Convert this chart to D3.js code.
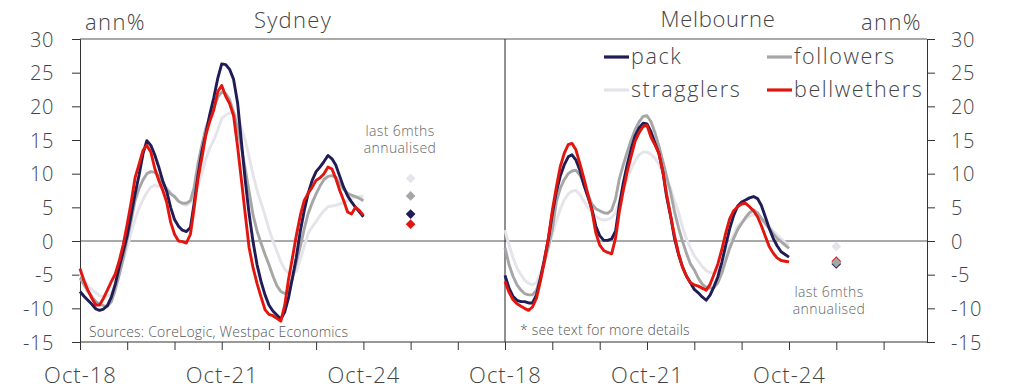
<!DOCTYPE html>
<html><head><meta charset="utf-8">
<script src="https://cdn.jsdelivr.net/npm/d3@7"></script>
<style>
html,body{margin:0;padding:0;background:#fff;}
svg{display:block;font-family:"Open Sans",Lato,sans-serif;}
</style></head>
<body><svg id="chart" width="1009" height="388"></svg>
<script>
// ---- data (monthly, Oct-18 .. Oct-24) ----
const startYear = 2018, startMonth = 9, nMonths = 73;
const seriesNames = ["stragglers", "followers", "pack", "bellwethers"];
const panelNames = ["Sydney", "Melbourne"];
const yTicks = [-15, -10, -5, 0, 5, 10, 15, 20, 25, 30];
const xTickYears = [2018, 2019, 2020, 2021, 2022, 2023, 2024, 2025, 2026, 2027];
const xLabelYears = [2018, 2021, 2024];

const sydPack = [-7.5,-8.2,-8.8,-9.4,-10.1,-10.3,-10.1,-9.6,-8.3,-6.4,-3.8,-1.5,0.8,3.9,7.0,9.8,13.0,14.9,14.2,12.8,11.0,9.0,7.4,5.0,3.2,2.2,1.6,1.4,2.0,5.5,9.8,13.3,16.0,18.8,21.3,24.2,26.3,26.2,25.5,24.0,20.5,15.0,9.0,4.0,-0.2,-3.5,-6.0,-8.0,-9.5,-10.4,-11.0,-11.6,-10.5,-8.5,-5.5,-2.4,1.5,4.5,7.1,9.0,10.3,11.0,11.8,12.7,12.2,11.3,9.6,8.0,6.7,5.8,5.0,4.3,3.6];
const sydBell = [-4.1,-5.9,-7.3,-8.5,-9.5,-9.5,-8.5,-7.3,-6.0,-4.9,-2.9,-0.5,2.5,5.8,9.4,11.4,13.5,14.2,13.2,10.8,9.0,7.6,5.8,2.8,1.0,0.0,-0.1,-0.3,1.0,4.8,9.3,12.4,15.8,17.8,19.5,22.2,23.1,21.5,20.4,18.6,14.0,9.3,4.0,-1.0,-4.0,-6.3,-8.3,-10.2,-10.9,-11.1,-11.5,-11.9,-9.5,-5.8,-2.5,0.8,3.8,6.0,7.1,8.0,9.0,9.4,10.0,11.0,10.7,9.3,7.5,6.0,4.3,4.0,5.0,4.5,3.8];
const sydFoll = [-5.5,-6.5,-7.5,-8.3,-9.0,-9.4,-9.6,-9.7,-9.0,-7.2,-5.0,-2.5,0.3,3.0,6.0,7.8,9.1,10.0,10.3,10.2,9.6,8.6,7.7,7.0,6.6,5.9,5.6,5.6,6.0,7.9,11.5,14.3,16.8,18.4,19.8,21.4,22.1,21.9,21.0,19.1,16.8,14.0,10.7,7.3,3.8,1.5,-0.3,-2.0,-3.5,-5.2,-6.6,-7.5,-7.8,-7.5,-5.5,-3.2,-0.8,1.8,4.1,5.7,7.0,8.2,9.1,9.6,9.7,9.5,8.5,7.7,7.1,6.8,6.6,6.3,6.0];
const sydStrag = [-4.9,-5.8,-6.6,-7.2,-7.7,-8.1,-8.3,-8.2,-7.8,-6.5,-4.8,-2.8,-1.0,1.3,3.2,4.9,6.2,7.2,8.0,8.3,8.1,8.1,7.9,7.2,6.5,5.9,5.5,5.3,5.7,6.6,8.2,10.2,12.2,13.8,15.0,16.5,18.2,18.7,19.0,19.1,18.4,16.8,15.0,12.5,9.8,7.5,5.7,3.8,1.8,0.0,-1.5,-3.1,-4.2,-4.8,-4.9,-4.5,-2.7,-0.8,1.1,2.1,2.9,3.8,4.5,5.1,5.2,5.3,5.5,5.7,6.0,6.3,6.5,6.6,6.6];

const melPack = [-5.1,-7.0,-8.2,-8.8,-9.0,-9.0,-9.2,-9.2,-8.0,-5.6,-2.7,0.3,4.0,7.3,9.6,11.3,12.5,12.8,12.0,10.5,8.3,6.6,4.8,2.2,0.8,0.1,0.1,0.3,1.5,5.3,8.6,11.3,13.7,15.6,16.8,17.5,17.4,16.2,14.6,13.0,10.2,6.6,3.7,0.4,-2.0,-3.8,-5.2,-6.2,-7.2,-7.7,-8.3,-8.8,-8.0,-6.8,-5.3,-3.2,-0.6,1.8,3.8,5.2,5.8,6.1,6.4,6.6,6.3,5.3,3.6,1.9,0.4,-0.7,-1.6,-2.0,-2.4];
const melBell = [-6.0,-7.6,-8.7,-9.3,-9.7,-10.0,-10.3,-9.8,-8.5,-6.0,-3.0,0.5,4.5,8.0,11.0,13.0,14.3,14.5,13.5,11.5,9.3,7.0,4.6,1.2,-0.6,-1.4,-1.7,-1.9,0.5,4.3,7.5,10.3,12.6,14.8,16.1,17.0,17.2,15.4,14.3,13.0,10.2,7.0,3.8,0.8,-1.8,-3.8,-5.2,-6.2,-6.5,-6.7,-7.0,-7.3,-6.4,-5.0,-3.4,-1.3,1.2,3.3,4.5,5.1,5.5,5.6,5.1,4.5,3.6,2.3,0.7,-0.8,-1.8,-2.5,-2.9,-3.0,-3.1];
const melFoll = [-1.0,-3.5,-5.2,-6.5,-7.3,-7.8,-8.0,-8.0,-7.3,-5.5,-3.2,-0.8,1.7,5.8,7.8,9.1,10.0,10.4,10.5,9.8,8.5,7.0,5.5,4.8,4.5,4.2,4.1,4.6,6.3,9.2,11.3,13.2,15.0,16.5,17.7,18.5,18.6,17.7,16.1,14.1,11.8,9.6,7.2,4.4,2.0,0.0,-1.8,-3.4,-4.3,-5.5,-6.4,-6.9,-7.0,-6.9,-6.2,-4.8,-2.9,-1.1,0.4,1.7,2.6,3.5,4.2,4.6,4.2,3.4,2.6,1.9,1.1,0.4,-0.1,-0.6,-1.1];
const melStrag = [1.6,-0.6,-2.4,-4.0,-5.0,-5.8,-6.3,-6.5,-6.2,-4.8,-3.2,-1.1,0.9,3.0,4.7,6.1,7.0,7.4,7.5,6.9,5.9,5.0,4.3,3.7,3.3,3.1,3.2,3.5,4.2,5.8,7.5,9.3,10.7,11.9,12.8,13.2,13.2,12.9,12.3,11.4,10.2,9.0,7.8,6.0,4.3,2.1,0.3,-1.0,-2.2,-3.0,-3.8,-4.4,-4.7,-4.8,-4.5,-3.5,-1.8,-0.4,0.9,2.2,2.8,3.3,3.7,3.9,3.8,3.4,2.8,2.1,1.5,0.9,0.3,-0.2,-0.6];

// last 6mths annualised (stragglers, followers, pack, bellwethers)
const sydLast6 = [9.3, 6.7, 4.0, 2.5];
const melLast6 = [-0.8, -3.2, -3.4, -3.0];

// ---- styling ----
const colors = {stragglers:"#e4e4ea", followers:"#a6a6a6", pack:"#1f1c56", bellwethers:"#e3160f"};
const textCol = "#444";
const FONT = "'Open Sans',Lato,sans-serif";

const svg = d3.select("#chart");
const y = d3.scaleLinear().domain([-15, 30]).range([342, 39]);
const dates = d3.range(nMonths).map(i => new Date(startYear, startMonth + i, 1));

const xSyd = d3.scaleTime().domain([new Date(2018,9,1), new Date(2027,9,1)]).range([80, 505]);
const xMel = d3.scaleTime().domain([new Date(2018,9,1), new Date(2027,8,1)]).range([505, 927]);

const panels = [
  {x: xSyd, data: {stragglers: sydStrag, followers: sydFoll, pack: sydPack, bellwethers: sydBell}, last6: sydLast6, diamondDate: new Date(2025,9,1)},
  {x: xMel, data: {stragglers: melStrag, followers: melFoll, pack: melPack, bellwethers: melBell}, last6: melLast6, diamondDate: new Date(2025,9,1)}
];

// frame lines
svg.append("line").attr("x1", 80).attr("x2", 927).attr("y1", y(30)).attr("y2", y(30)).attr("stroke", "#555").attr("stroke-width", 1);
svg.append("line").attr("x1", 80).attr("x2", 927).attr("y1", y(0)).attr("y2", y(0)).attr("stroke", "#555").attr("stroke-width", 1);

// y axes
const yl = svg.append("g").attr("transform", "translate(80,0)")
  .call(d3.axisLeft(y).tickValues(yTicks).tickSize(8).tickPadding(18).tickFormat(d => String(d)));
const yr = svg.append("g").attr("transform", "translate(927,0)")
  .call(d3.axisRight(y).tickValues(yTicks).tickSize(8).tickPadding(16).tickFormat(d => String(d)));
[yl, yr].forEach(g => {
  g.attr("font-family", null).attr("font-size", null);
  g.select(".domain").attr("stroke", "#333");
  g.selectAll(".tick line").attr("stroke", "#333");
  g.selectAll(".tick text").attr("fill", textCol).style("font-family", FONT)
    .style("font-size", "20px").style("font-weight", 300).style("letter-spacing", "0.6px").attr("dy", "0.36em");
});

// divider
svg.append("line").attr("x1", 505).attr("x2", 505).attr("y1", y(30)).attr("y2", y(-15)).attr("stroke", "#222").attr("stroke-width", 1);

// x axes
panels.forEach((p, i) => {
  const d1 = p.x.domain()[1];
  const tv = xTickYears.map(yy => new Date(yy, 9, 1)).filter(d => d <= d1 && p.x(d) < 926);
  const g = svg.append("g").attr("transform", "translate(0,342)")
    .call(d3.axisBottom(p.x).tickValues(tv).tickSize(8)
      .tickFormat(d => xLabelYears.includes(d.getFullYear()) ? d3.timeFormat("%b-%y")(d) : ""));
  g.attr("font-family", null).attr("font-size", null);
  g.select(".domain").attr("stroke", "#333").attr("d", `M${p.x.range()[0]},0H${p.x.range()[1]}`);
  g.selectAll(".tick line").attr("stroke", "#333");
  g.selectAll(".tick text").attr("fill", textCol).style("font-family", FONT).style("font-size", "22px").style("font-weight", 300)
    .style("letter-spacing", "1px").attr("y", 41).attr("dy", null);
});

// lines
panels.forEach(p => {
  const line = d3.line().x((d, i) => p.x(dates[i])).y(d => y(d)).curve(d3.curveLinear);
  seriesNames.forEach(s => {
    svg.append("path").datum(p.data[s]).attr("d", line)
      .attr("fill", "none").attr("stroke", colors[s]).attr("stroke-width", 2.9)
      .attr("stroke-linejoin", "round").attr("stroke-linecap", "butt");
  });
});

// diamonds
const sym = d3.symbol().type(d3.symbolDiamond2).size(60);
seriesNames.forEach((s, k) => {
  svg.append("path").attr("d", sym)
    .attr("transform", `translate(${xSyd(panels[0].diamondDate)},${y(sydLast6[k])})`)
    .attr("fill", colors[s]);
});
[2, 3, 1, 0].forEach(k => {
  svg.append("path").attr("d", sym)
    .attr("transform", `translate(${xMel(panels[1].diamondDate)},${y(melLast6[k])})`)
    .attr("fill", colors[seriesNames[k]]);
});

// annotations
function txt(x, yy, s, size, anchor, col, ls) {
  return svg.append("text").attr("x", x).attr("y", yy).text(s)
    .attr("text-anchor", anchor || "start").attr("fill", col || textCol)
    .style("font-family", FONT)
    .style("font-size", size + "px").style("font-weight", 300)
    .style("letter-spacing", (ls == null ? 0.6 : ls) + "px");
}
txt(85, 30, "ann%", 22, "start", textCol, 1.4);
txt(922, 30, "ann%", 22, "end", textCol, 1.4);
txt(293, 28, "Sydney", 22, "middle", textCol, 1.3);
txt(718, 27, "Melbourne", 22, "middle", textCol, 0.7);
txt(400, 136, "last 6mths", 14, "middle", "#666", 0.4);
txt(400, 153, "annualised", 14, "middle", "#666", 0.4);
txt(829, 297, "last 6mths", 14, "middle", "#666", 0.4);
txt(829, 314, "annualised", 14, "middle", "#666", 0.4);
txt(89, 337, "Sources: CoreLogic, Westpac Economics", 14, "start", "#555", 0.2);
txt(520, 335, "* see text for more details", 14, "start", "#555", 0.2);

// legend
const legend = [
  {s: "pack", x: 604, y: 57},
  {s: "followers", x: 767, y: 57},
  {s: "stragglers", x: 604, y: 90},
  {s: "bellwethers", x: 767, y: 90}
];
legend.forEach(l => {
  svg.append("line").attr("x1", l.x).attr("x2", l.x + 25).attr("y1", l.y).attr("y2", l.y)
    .attr("stroke", colors[l.s]).attr("stroke-width", 3.2);
  txt(l.x + 27, l.y + 7, l.s, 21.5, "start", textCol, 1.6);
});
</script></body></html>
